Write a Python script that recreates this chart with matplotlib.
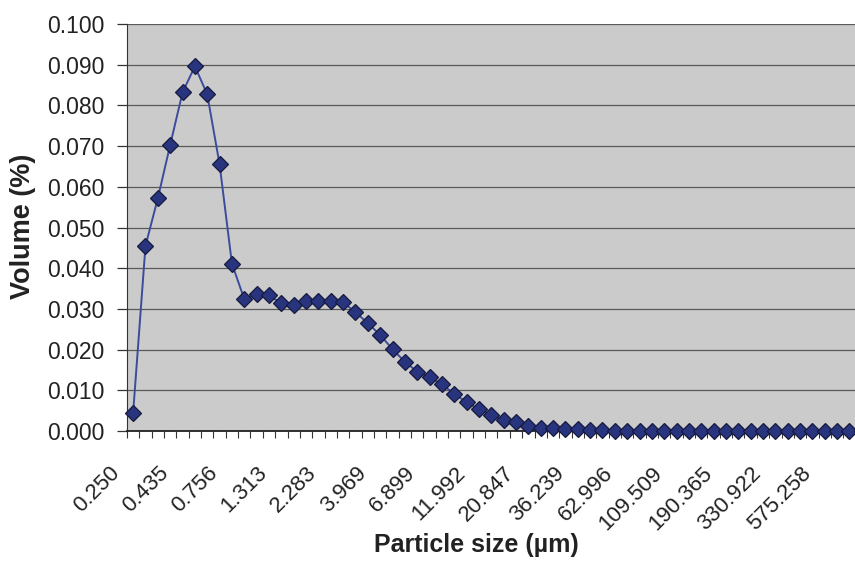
import matplotlib
matplotlib.use("Agg")
import matplotlib.pyplot as plt
import matplotlib.transforms as mtransforms
import numpy as np

plt.rcParams['font.family'] = ['Liberation Sans', 'DejaVu Sans']

# Particle size classes (µm) shown on the axis, one label every 4 classes
size_labels = ["0.250", "0.435", "0.756", "1.313", "2.283", "3.969", "6.899",
               "11.992", "20.847", "36.239", "62.996", "109.509", "190.365",
               "330.922", "575.258"]
label_step = 4

# Volume fraction (%) per size class
volume = [0.0045, 0.0455, 0.0572, 0.0703, 0.0832, 0.0896, 0.0827, 0.0655,
          0.0411, 0.0324, 0.0336, 0.0333, 0.0314, 0.0310, 0.0320, 0.0320,
          0.0320, 0.0316, 0.0292, 0.0265, 0.0236, 0.0201, 0.0170, 0.0146,
          0.0132, 0.0115, 0.0091, 0.0071, 0.0053, 0.0039, 0.0027, 0.0021,
          0.0013, 0.0008, 0.0007, 0.0005, 0.0004, 0.0003, 0.0002, 0.0001,
          0.0001, 0.0, 0.0, 0.0, 0.0, 0.0, 0.0, 0.0,
          0.0, 0.0, 0.0, 0.0, 0.0, 0.0, 0.0, 0.0,
          0.0, 0.0, 0.0, 0.0]

n = len(volume)
x = np.arange(n)

fig = plt.figure(figsize=(8.55, 5.61), dpi=100, facecolor="white")
# plot area runs past the right edge of the figure
ax = fig.add_axes([0.1485, 0.2317, 0.8667, 0.7255])
ax.set_facecolor("#cbcbcc")

ax.plot(x, volume, color="#3d4b9c", lw=1.4, marker="D", markersize=7.8,
        markerfacecolor="#28347e", markeredgecolor="#161a3c",
        markeredgewidth=0.9, zorder=3, clip_on=False)

ax.set_xlim(-0.5, n - 0.5)
ax.set_ylim(0, 0.100)
ax.set_yticks(np.arange(0, 0.1001, 0.010))
ax.yaxis.set_major_formatter(matplotlib.ticker.FormatStrFormatter("%.3f"))
ax.grid(axis="y", color="#5a5a5a", lw=0.9)
ax.set_axisbelow(True)

# category boundaries as minor ticks, labels on every 4th category
ax.set_xticks(np.arange(-0.5, n, 1.0), minor=True)
ax.set_xticks(x[::label_step][:len(size_labels)])
ax.set_xticklabels(size_labels, rotation=45, ha="right", va="center",
                   rotation_mode="anchor", fontsize=16, color="#222222")
ax.tick_params(axis="x", which="major", length=0, pad=28)
ax.tick_params(axis="x", which="minor", length=5, width=0.8, color="#333333")
ax.tick_params(axis="y", length=7, width=0.9, color="#333333",
               labelsize=16.5, labelcolor="#222222", pad=9)
shift = mtransforms.ScaledTranslation(-17 / 100, 0, fig.dpi_scale_trans)
for lbl in ax.get_xticklabels():
    lbl.set_transform(lbl.get_transform() + shift)

for side in ("top", "right"):
    ax.spines[side].set_visible(False)
ax.spines["left"].set_color("#333333")
ax.spines["bottom"].set_color("#222222")
ax.spines["bottom"].set_linewidth(1.3)

fig.text(23 / 855, 1 - 226 / 561, "Volume (%)", rotation=90, ha="center",
         va="center", fontsize=19.5, fontweight="bold", color="#222222")
fig.text(476 / 855, 1 - 545 / 561, "Particle size (µm)", ha="center",
         va="center", fontsize=18, fontweight="bold", color="#222222")

fig.savefig("out.png", dpi=100, facecolor="white")
